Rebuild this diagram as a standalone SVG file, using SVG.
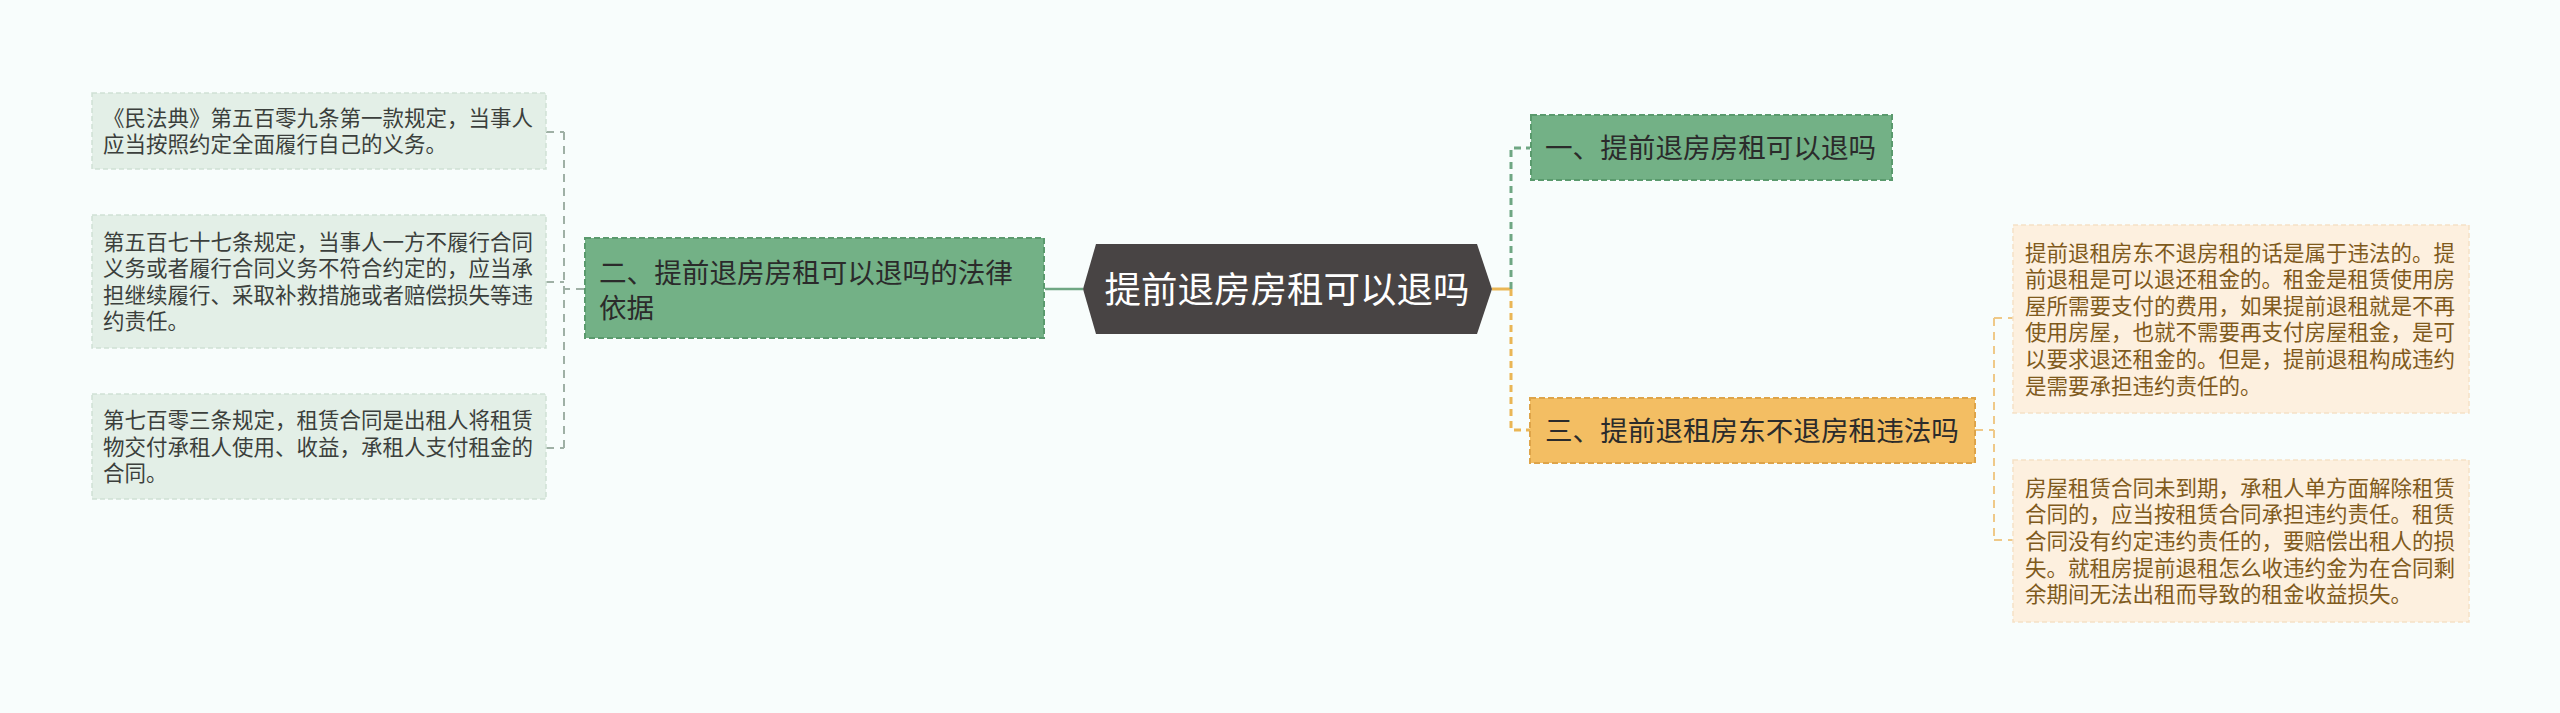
<svg xmlns="http://www.w3.org/2000/svg" width="2560" height="713" viewBox="0 0 2560 713">
<style>
text{font-family:"Noto Sans CJK SC","Noto Sans",sans-serif}
.leafG{fill:#e3efe7;stroke:#cfe1d5;stroke-width:1.5;stroke-dasharray:5 3}
.leafO{fill:#fdf0df;stroke:#f5e1c6;stroke-width:1.5;stroke-dasharray:5 3}
.tG{font-size:21.5px;fill:#3b3f3c}
.tO{font-size:21.5px;fill:#7f5a1c}
.mainG{fill:#73b186;stroke:#5a9a6d;stroke-width:2;stroke-dasharray:6 3}
.mainO{fill:#f3be63;stroke:#dea449;stroke-width:2;stroke-dasharray:6 3}
.tM{font-size:27.6px;fill:#2b2b2b}
.cg{fill:none;stroke:#9fb0a5;stroke-width:2;stroke-dasharray:8 6}
.cgm{fill:none;stroke:#6fa783;stroke-width:3;stroke-dasharray:7 5}
.co{fill:none;stroke:#eab655;stroke-width:3;stroke-dasharray:7 5}
.col{fill:none;stroke:#efc988;stroke-width:2;stroke-dasharray:8 6}
</style>
<rect width="2560" height="713" fill="#f8fdfc"/>
<g id="connectors">
<path class="cg" d="M584 289 H564 M564 132 V448 M546 132 H564 M546 282 H564 M546 448 H564"/>
<path d="M1045 289 H1083" fill="none" stroke="#6fa783" stroke-width="2.5"/>
<path d="M1492 289 H1511" fill="none" stroke="#eab655" stroke-width="3"/>
<path class="cgm" d="M1511 289 V148 H1530"/>
<path class="co" d="M1511 289 V430 H1530"/>
<path class="col" d="M1975 430 H1994 M1994 318 V540 M1994 318 H2013 M1994 540 H2013"/>
</g>
<g id="center">
<polygon points="1083,289 1096,244 1477,244 1492,289 1477,334 1096,334" fill="#484444"/>
<text x="1287" y="302.5" font-size="36.5" fill="#ffffff" text-anchor="middle">提前退房房租可以退吗</text>
</g>
<g id="n1">
<rect class="mainG" x="1531" y="115" width="361" height="65"/>
<text class="tM" x="1545" y="158">一、提前退房房租可以退吗</text>
</g>
<g id="n2">
<rect class="mainG" x="585" y="238" width="459" height="100"/>
<text class="tM" x="599" y="283">二、提前退房房租可以退吗的法律</text>
<text class="tM" x="599" y="318">依据</text>
</g>
<g id="n3">
<rect class="mainO" x="1530" y="398" width="445" height="65"/>
<text class="tM" x="1545" y="441">三、提前退租房东不退房租违法吗</text>
</g>
<g id="l1">
<rect class="leafG" x="92" y="93" width="454" height="76"/>
<text class="tG" x="103" y="125.7">《民法典》第五百零九条第一款规定，当事人</text>
<text class="tG" x="103" y="152.2">应当按照约定全面履行自己的义务。</text>
</g>
<g id="l2">
<rect class="leafG" x="92" y="215" width="454" height="133"/>
<text class="tG" x="103" y="249.7">第五百七十七条规定，当事人一方不履行合同</text>
<text class="tG" x="103" y="276.2">义务或者履行合同义务不符合约定的，应当承</text>
<text class="tG" x="103" y="302.7">担继续履行、采取补救措施或者赔偿损失等违</text>
<text class="tG" x="103" y="329.2">约责任。</text>
</g>
<g id="l3">
<rect class="leafG" x="92" y="394" width="454" height="105"/>
<text class="tG" x="103" y="428">第七百零三条规定，租赁合同是出租人将租赁</text>
<text class="tG" x="103" y="454.5">物交付承租人使用、收益，承租人支付租金的</text>
<text class="tG" x="103" y="481">合同。</text>
</g>
<g id="r1">
<rect class="leafO" x="2013" y="225" width="456" height="188"/>
<text class="tO" x="2025" y="260.5">提前退租房东不退房租的话是属于违法的。提</text>
<text class="tO" x="2025" y="287">前退租是可以退还租金的。租金是租赁使用房</text>
<text class="tO" x="2025" y="313.7">屋所需要支付的费用，如果提前退租就是不再</text>
<text class="tO" x="2025" y="340.3">使用房屋，也就不需要再支付房屋租金，是可</text>
<text class="tO" x="2025" y="367">以要求退还租金的。但是，提前退租构成违约</text>
<text class="tO" x="2025" y="393.5">是需要承担违约责任的。</text>
</g>
<g id="r2">
<rect class="leafO" x="2013" y="460" width="456" height="162"/>
<text class="tO" x="2025" y="495.8">房屋租赁合同未到期，承租人单方面解除租赁</text>
<text class="tO" x="2025" y="522.4">合同的，应当按租赁合同承担违约责任。租赁</text>
<text class="tO" x="2025" y="549">合同没有约定违约责任的，要赔偿出租人的损</text>
<text class="tO" x="2025" y="575.6">失。就租房提前退租怎么收违约金为在合同剩</text>
<text class="tO" x="2025" y="602.2">余期间无法出租而导致的租金收益损失。</text>
</g>
</svg>
